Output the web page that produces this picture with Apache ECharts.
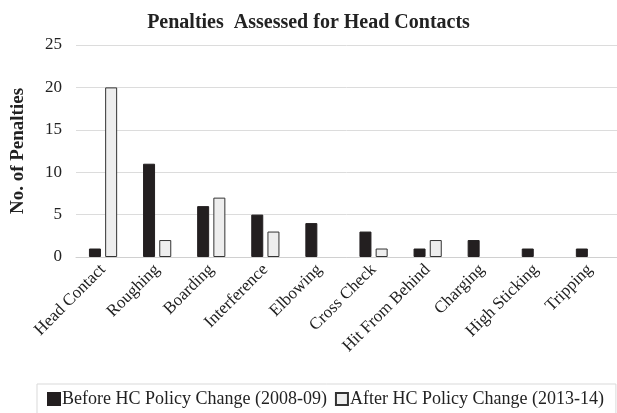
<!DOCTYPE html>
<html>
<head>
<meta charset="utf-8">
<script src="https://cdn.jsdelivr.net/npm/echarts@6/dist/echarts.min.js"></script>
<style>
html, body { margin: 0; padding: 0; background: #fff; }
#chart { width: 617px; height: 413px; }
</style>
</head>
<body>
<div id="chart"></div>
<script>
var categories = ['Head Contact', 'Roughing', 'Boarding', 'Interference', 'Elbowing',
    'Cross Check', 'Hit From Behind', 'Charging', 'High Sticking', 'Tripping'];
var before = [1, 11, 6, 5, 4, 3, 1, 2, 1, 1];
var after = [20, 2, 7, 3, 0, 1, 2, 0, 0, 0];
var yTicks = [0, 5, 10, 15, 20, 25];

var font = '"Liberation Serif", "DejaVu Serif", serif';
var chart = echarts.init(document.getElementById('chart'));

// Excel leaves zero-height bars out, so hide them here too
function noZero(list) {
    return list.map(function (v) { return v === 0 ? '-' : v; });
}

var option = {
    backgroundColor: '#fff',
    animation: false,
    title: {
        text: 'Penalties  Assessed for Head Contacts',
        left: 'center',
        top: 8,
        textStyle: { fontFamily: font, fontSize: 20, fontWeight: 'bold', color: '#222' }
    },
    legend: {
        left: 37,
        top: 384,
        padding: [6, 12, 10, 10],
        borderColor: '#d9d9d9',
        borderWidth: 1,
        itemWidth: 12,
        itemHeight: 12,
        itemGap: 8,
        textStyle: { fontFamily: font, fontSize: 18, color: '#222', padding: [0, 0, 0, -3] },
        data: [
            { name: 'Before HC Policy Change (2008-09)', icon: 'rect' },
            { name: 'After HC Policy Change (2013-14)', icon: 'rect' }
        ]
    },
    grid: { left: 76, top: 45, width: 548, height: 212 },
    xAxis: {
        type: 'category',
        data: categories,
        axisTick: { show: false },
        axisLine: { lineStyle: { color: '#d0d0d0' } },
        axisLabel: {
            interval: 0,
            rotate: 45,
            margin: 10,
            fontFamily: font,
            fontSize: 17,
            color: '#222'
        }
    },
    yAxis: {
        type: 'value',
        min: yTicks[0],
        max: yTicks[yTicks.length - 1],
        interval: 5,
        name: 'No. of Penalties',
        nameLocation: 'middle',
        nameGap: 48,
        nameTextStyle: { fontFamily: font, fontSize: 19, fontWeight: 'bold', color: '#222' },
        axisLabel: { fontFamily: font, fontSize: 17, color: '#222', margin: 14 },
        splitLine: { lineStyle: { color: '#dcdcdc' } }
    },
    series: [{
        name: 'Before HC Policy Change (2008-09)',
        type: 'bar',
        data: noZero(before),
        barWidth: 12,
        barGap: '35%',
        itemStyle: { color: '#231f20', borderColor: '#231f20', borderWidth: 1 }
    }, {
        name: 'After HC Policy Change (2013-14)',
        type: 'bar',
        data: noZero(after),
        barWidth: 12,
        itemStyle: { color: '#eeeeee', borderColor: '#333', borderWidth: 1 }
    }]
};

chart.setOption(option);
</script>
</body>
</html>
